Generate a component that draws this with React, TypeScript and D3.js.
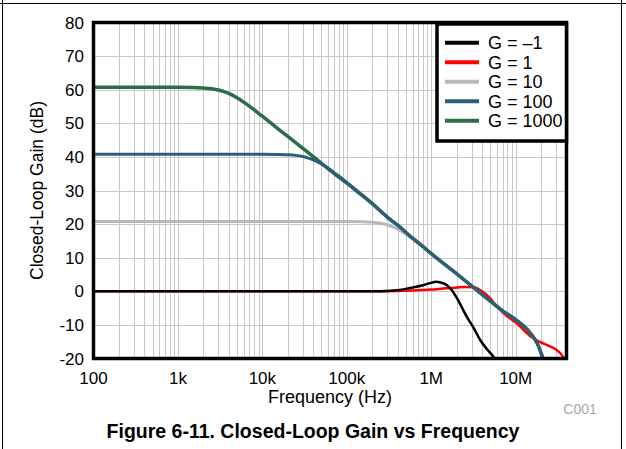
import React from "react";
import * as d3 from "d3";

// ---------- data (frequency Hz, closed-loop gain dB) ----------
const xTickValues = [100, 1e3, 1e4, 1e5, 1e6, 1e7];
const xTickLabels = ["100", "1k", "10k", "100k", "1M", "10M"];
const yTickValues = [-20, -10, 0, 10, 20, 30, 40, 50, 60, 70, 80];

const seriesNames = ["G = \u20131", "G = 1", "G = 10", "G = 100", "G = 1000"];

const rolloffTail: [number, number][] = [
  [1e6, 11.2], [1.83e6, 6], [3.6e6, 0], [5e6, -2.9], [7e6, -5.8], [1e7, -8.4],
  [1.5e7, -12.5], [1.8e7, -15.5], [2.04e7, -19], [2.15e7, -20.8],
];

const gainMinus1: [number, number][] = [
  [100, 0], [1e5, 0], [2.5e5, 0.05], [4.27e5, 0.4], [5.63e5, 1.0], [8e5, 1.8],
  [1.06e6, 2.7], [1.16e6, 2.85], [1.3e6, 2.6], [1.52e6, 1.9], [1.75e6, 0.4],
  [2e6, -1.9], [2.64e6, -7.6], [3.2e6, -11], [3.8e6, -14.5], [4.6e6, -17.3],
  [5.46e6, -19.5], [5.8e6, -20.5],
];

const gain1: [number, number][] = [
  [100, 0], [1e5, 0], [3e5, 0.05], [5e5, 0.2], [1e6, 0.5], [1.5e6, 0.9],
  [2e6, 1.1], [2.5e6, 1.3], [3.2e6, 1.2], [4e6, 0], [5e6, -2.1], [6e6, -4.6],
  [8e6, -7.5], [1.03e7, -9.5], [1.3e7, -12], [1.62e7, -14], [1.9e7, -15],
  [2.5e7, -16.3], [3e7, -17.3], [3.4e7, -18.5], [3.8e7, -20.2],
];

const gain10: [number, number][] = [
  [100, 20.8], [1e4, 20.8], [1e5, 20.75], [1.5e5, 20.7], [2e5, 20.55],
  [2.5e5, 20.25], [3e5, 19.8], [3.5e5, 19.2], [4.27e5, 18.1], [5e5, 17], [6e5, 15.6],
  [8e5, 13.3], ...rolloffTail,
];

const gain100: [number, number][] = [
  [100, 40.8], [1e3, 40.8], [5e3, 40.8], [1e4, 40.8], [1.5e4, 40.75], [2e4, 40.65],
  [2.5e4, 40.45], [3e4, 40.1], [3.5e4, 39.65], [4e4, 39.1], [5e4, 37.9], [6e4, 36.7],
  [7e4, 35.4], [8.5e4, 33.8], [1e5, 32.4], [1.5e5, 28.8], [2e5, 26.2],
  [3e5, 22.2], [4.27e5, 19.1], [6e5, 15.8], [8e5, 13.3], ...rolloffTail,
];

const gain1000: [number, number][] = [
  [100, 60.7], [500, 60.7], [1e3, 60.7], [1.5e3, 60.65], [2e3, 60.5], [2.5e3, 60.3],
  [3e3, 59.9], [3.5e3, 59.45], [4e3, 58.9], [5e3, 57.6], [6e3, 56.3], [7e3, 55.1],
  [8.5e3, 53.5], [1e4, 52.1], [1.3e4, 49.8], [1.6e4, 48], [2e4, 46.1], [3e4, 42.6],
  [4e4, 40.1], [5e4, 38.1], [7e4, 35.2], [1e5, 32.2], [1.5e5, 28.6], [2e5, 26.1],
  [3e5, 22.1], [4.27e5, 19.1], [6e5, 15.8], [8e5, 13.3], ...rolloffTail,
];

const seriesColors = ["#000000", "#ff0000", "#b8b8b8", "#2e5d78", "#2b6c4b"];
const seriesData = [gainMinus1, gain1, gain10, gain100, gain1000];

// ---------- layout ----------
const W = 626;
const H = 449;
const L = 93.5, R = 566.5, T = 22.5, B = 358.5;

export default function App() {
  const x = d3.scaleLog().domain([100, 4e7]).range([L, R]);
  const y = d3.scaleLinear().domain([-20, 80]).range([B, T]);

  const minorTicks: number[] = [];
  for (let e = 2; e <= 7; e++) {
    for (let m = 1; m <= 9; m++) {
      const v = m * Math.pow(10, e);
      if (v > 100 && v < 4e7) minorTicks.push(v);
    }
  }

  const line = d3
    .line<[number, number]>()
    .x((d) => x(d[0]))
    .y((d) => y(d[1]))
    .curve(d3.curveMonotoneX);

  // draw order: gray, red, black, green, blue
  const drawOrder = [2, 1, 0, 4, 3];
  const widths = [2.5, 2.5, 3, 3, 3.5];

  const font = "Arial, 'Liberation Sans', Helvetica, sans-serif";

  const legX = 437, legY = 24, legW = R - 437, legH = 117;

  return (
    <svg
      width={W}
      height={H}
      style={{ position: "absolute", left: 0, top: 0, background: "#fff" }}
      fontFamily={font}
    >
      <defs>
        <clipPath id="plotclip">
          <rect x={L} y={T} width={R - L} height={B - T} />
        </clipPath>
      </defs>
      {/* page border */}
      <line x1={0} x2={W} y1={3.5} y2={3.5} stroke="#000" strokeWidth={1} />
      <line x1={2.5} x2={2.5} y1={0} y2={H} stroke="#000" strokeWidth={1} />
      <line x1={621.5} x2={621.5} y1={0} y2={H} stroke="#000" strokeWidth={1} />

      {/* grid */}
      {minorTicks.map((v) => (
        <line
          key={"gx" + v}
          x1={Math.round(x(v)) + 0.5}
          x2={Math.round(x(v)) + 0.5}
          y1={T}
          y2={B}
          stroke="#c8c8c8"
          strokeWidth={1}
        />
      ))}
      {yTickValues.map((v) => (
        <line
          key={"gy" + v}
          x1={L}
          x2={R}
          y1={Math.round(y(v)) + 0.5}
          y2={Math.round(y(v)) + 0.5}
          stroke="#c8c8c8"
          strokeWidth={1}
        />
      ))}

      {/* curves */}
      <g clipPath="url(#plotclip)">
        {drawOrder.map((i) => (
          <path
            key={"s" + i}
            d={line(seriesData[i]) || ""}
            fill="none"
            stroke={seriesColors[i]}
            strokeWidth={widths[i]}
            strokeLinejoin="round"
          />
        ))}
      </g>

      {/* frame */}
      <rect x={L} y={T} width={R - L} height={B - T} fill="none" stroke="#000" strokeWidth={3.5} />

      {/* y tick labels */}
      {yTickValues.map((v) => (
        <text
          key={"yl" + v}
          x={84}
          y={y(v)}
          dy="0.36em"
          textAnchor="end"
          fontSize={17}
          fill="#000"
        >
          {v}
        </text>
      ))}
      {/* x tick labels */}
      {xTickValues.map((v, i) => (
        <text key={"xl" + v} x={x(v)} y={384} textAnchor="middle" fontSize={17} fill="#000">
          {xTickLabels[i]}
        </text>
      ))}

      {/* axis titles */}
      <text x={(L + R) / 2} y={403} textAnchor="middle" fontSize={18} fill="#000">
        Frequency (Hz)
      </text>
      <text
        transform={`translate(43,${(T + B) / 2}) rotate(-90)`}
        textAnchor="middle"
        fontSize={17.5}
        fill="#000"
      >
        Closed-Loop Gain (dB)
      </text>

      {/* legend */}
      <rect x={legX} y={legY} width={legW} height={legH} fill="#fff" stroke="#000" strokeWidth={3.5} />
      {seriesNames.map((n, i) => {
        const cy = 42.7 + i * 19.5;
        return (
          <g key={"lg" + i}>
            <line x1={445} x2={479} y1={cy} y2={cy} stroke={seriesColors[i]} strokeWidth={4} />
            <text x={488} y={cy} dy="0.36em" fontSize={18} fill="#000">
              {n}
            </text>
          </g>
        );
      })}

      {/* C001 */}
      <text x={580} y={414} textAnchor="middle" fontSize={14} fill="#a6a6a6">
        C001
      </text>

      {/* caption */}
      <text x={313} y={438} textAnchor="middle" fontSize={19.5} fontWeight="bold" fill="#000">
        Figure 6-11. Closed-Loop Gain vs Frequency
      </text>
    </svg>
  );
}
